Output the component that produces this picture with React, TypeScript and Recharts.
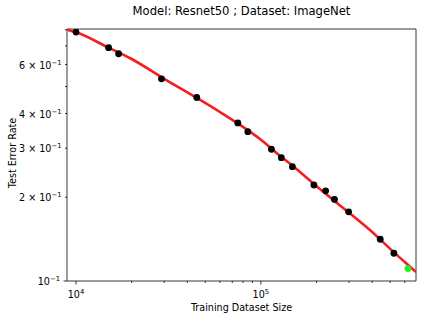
import React from "react";
import {
  ComposedChart,
  XAxis,
  YAxis,
  Scatter,
  Line,
  ReferenceArea,
} from "recharts";

// ---- data ----
const trainSizes = [10000, 15000, 17000, 29000, 45000, 75000, 85000, 114000, 129000, 148000, 193500, 224000, 250000, 298000, 442000, 524000];
const testErrors = [0.785, 0.69, 0.656, 0.533, 0.4566, 0.37, 0.344, 0.2976, 0.2775, 0.2576, 0.2213, 0.211, 0.1965, 0.1773, 0.1413, 0.1258];

const extraSizes = [624000];
const extraErrors = [0.1108];

const fitSizes = [8940, 10000, 15000, 20000, 30000, 45000, 60000, 80000, 100000, 130000, 150000, 200000, 250000, 300000, 400000, 500000, 600000, 690000];
const fitErrors = [0.8, 0.783, 0.69, 0.628, 0.533, 0.455, 0.405, 0.358, 0.322, 0.278, 0.258, 0.219, 0.194, 0.176, 0.15, 0.1305, 0.117, 0.1077];

const xDomain = [8940, 690000];
const yDomain = [0.1, 0.805];

const xMajorTicks = [10000, 100000];
const xMajorExponents = ["4", "5"];
const xMinorTicks = [20000, 30000, 40000, 50000, 60000, 70000, 80000, 90000, 200000, 300000, 400000, 500000, 600000];

const yMajorTicks = [0.1];
const yMinorTicks = [0.2, 0.3, 0.4, 0.5, 0.6, 0.7, 0.8];
const yLabelValues = [0.1, 0.2, 0.3, 0.4, 0.6];
const yLabelPrefixes = ["10", "2 × 10", "3 × 10", "4 × 10", "6 × 10"];
const yLabelExponent = "−1";

const points = trainSizes.map((x, i) => ({ x, y: testErrors[i] }));
const extraPoints = extraSizes.map((x, i) => ({ x, y: extraErrors[i] }));
const fitData = fitSizes.map((x, i) => ({ x, y: fitErrors[i] }));

const FONT = "DejaVu Sans";
const FS = 9.6;
const SUP = 6.8;

const XTick = (props: any) => {
  const { x, y, payload } = props;
  const v = payload.value;
  const mi = xMajorTicks.indexOf(v);
  const major = mi >= 0;
  const len = major ? 3.5 : 2;
  return (
    <g>
      <line x1={x} x2={x} y1={y} y2={y + len} stroke="#000" strokeWidth={0.8} />
      {major && (
        <text x={x} y={y + 17} textAnchor="middle" fontSize={FS} fontFamily={FONT} fill="#000">
          10
          <tspan dy={-4} fontSize={SUP}>{xMajorExponents[mi]}</tspan>
        </text>
      )}
    </g>
  );
};

const YTick = (props: any) => {
  const { x, y, payload } = props;
  const v = payload.value;
  const major = yMajorTicks.indexOf(v) >= 0;
  const len = major ? 3.5 : 2;
  const li = yLabelValues.findIndex((l) => Math.abs(l - v) < 1e-9);
  return (
    <g>
      <line x1={x} x2={x - len} y1={y} y2={y} stroke="#000" strokeWidth={0.8} />
      {li >= 0 && (
        <text x={x - len - 3.5} y={y + 4} textAnchor="end" fontSize={FS} fontFamily={FONT} fill="#000">
          {yLabelPrefixes[li]}
          <tspan dy={-4} fontSize={SUP}>{yLabelExponent}</tspan>
        </text>
      )}
    </g>
  );
};

const Dot = (props: any) => <circle cx={props.cx} cy={props.cy} r={3.4} fill="#000" />;
const GreenDot = (props: any) => <circle cx={props.cx} cy={props.cy} r={3.4} fill="#22ee22" />;

export default function App() {
  return (
    <div style={{ position: "absolute", left: 0, top: 0, width: 423, height: 321, fontFamily: FONT, background: "#fff" }}>
      <div
        style={{
          position: "absolute",
          left: 67,
          width: 349,
          top: 4,
          textAlign: "center",
          fontSize: 11.6,
          lineHeight: "14px",
          color: "#000",
        }}
      >
        Model: Resnet50 ; Dataset: ImageNet
      </div>
      <div
        style={{
          position: "absolute",
          left: 67,
          width: 349,
          top: 302,
          textAlign: "center",
          fontSize: FS,
          lineHeight: "11px",
          color: "#000",
        }}
      >
        Training Dataset Size
      </div>
      <div style={{ position: "absolute", left: 12, top: 153, width: 0, height: 0 }}>
        <div
          style={{
            position: "absolute",
            left: 0,
            top: 0,
            transform: "translate(-50%, -50%) rotate(-90deg)",
            whiteSpace: "nowrap",
            fontSize: FS,
            lineHeight: "11px",
            color: "#000",
          }}
        >
          Test Error Rate
        </div>
      </div>
      <ComposedChart width={423} height={321} margin={{ top: 29, right: 7, bottom: 0, left: 0 }}>
        <XAxis
          dataKey="x"
          type="number"
          scale="log"
          domain={xDomain}
          allowDataOverflow
          ticks={[...xMajorTicks, ...xMinorTicks]}
          interval={0}
          tick={<XTick />}
          tickLine={false}
          axisLine={false}
          tickSize={0}
          tickMargin={0}
          height={40}
        />
        <YAxis
          dataKey="y"
          type="number"
          scale="log"
          domain={yDomain}
          allowDataOverflow
          ticks={[...yMajorTicks, ...yMinorTicks]}
          interval={0}
          tick={<YTick />}
          tickLine={false}
          axisLine={false}
          tickSize={0}
          tickMargin={0}
          width={67}
        />
        <ReferenceArea
          x1={xDomain[0]}
          x2={xDomain[1]}
          y1={yDomain[0]}
          y2={yDomain[1]}
          fill="none"
          fillOpacity={0}
          stroke="#222"
          strokeWidth={0.9}
          ifOverflow="visible"
        />
        <Line
          data={fitData}
          dataKey="y"
          type="monotone"
          stroke="#f51d1d"
          strokeWidth={2.6}
          dot={false}
          activeDot={false}
          isAnimationActive={false}
        />
        <Scatter data={points} dataKey="y" shape={<Dot />} isAnimationActive={false} />
        <Scatter data={extraPoints} dataKey="y" shape={<GreenDot />} isAnimationActive={false} />
      </ComposedChart>
    </div>
  );
}
